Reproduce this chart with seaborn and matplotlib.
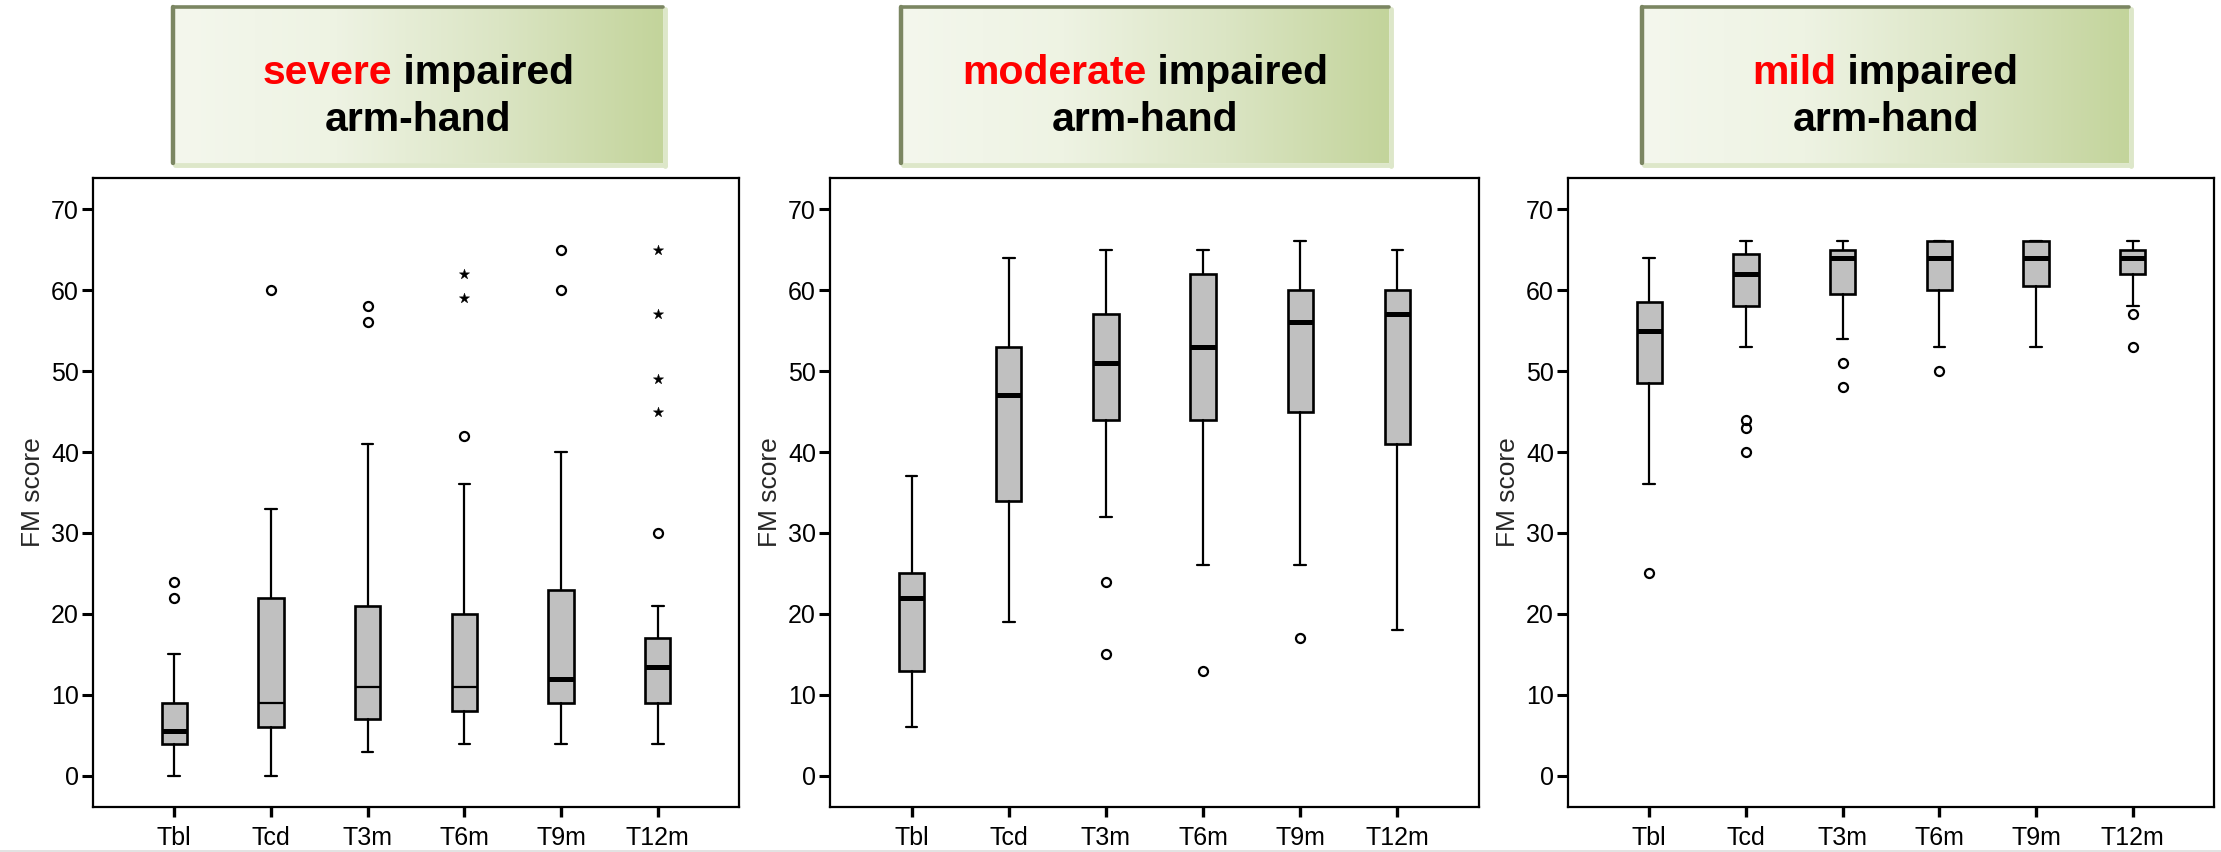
import numpy as np
import pandas as pd
import matplotlib
matplotlib.use("Agg")
import matplotlib.pyplot as plt
import seaborn as sns
from matplotlib.lines import Line2D
from matplotlib.patches import Rectangle
from matplotlib.colors import LinearSegmentedColormap

# ---------------- data ----------------
categories = ["Tbl", "Tcd", "T3m", "T6m", "T9m", "T12m"]
yticks = [0, 10, 20, 30, 40, 50, 60, 70]

severe_whislo = [0, 0, 3, 4, 4, 4]
severe_q1 = [4, 6, 7, 8, 9, 9]
severe_med = [5.5, 9, 11, 11, 12, 13.5]
severe_q3 = [9, 22, 21, 20, 23, 17]
severe_whishi = [15, 33, 41, 36, 40, 21]
severe_outliers = [[22, 24], [60], [56, 58], [42], [60, 65], [30]]
severe_extremes = [[], [], [], [59, 62], [], [45, 49, 57, 65]]

moderate_whislo = [6, 19, 32, 26, 26, 18]
moderate_q1 = [13, 34, 44, 44, 45, 41]
moderate_med = [22, 47, 51, 53, 56, 57]
moderate_q3 = [25, 53, 57, 62, 60, 60]
moderate_whishi = [37, 64, 65, 65, 66, 65]
moderate_outliers = [[], [], [15, 24], [13], [17], []]
moderate_extremes = [[], [], [], [], [], []]

mild_whislo = [36, 53, 54, 53, 53, 58]
mild_q1 = [48.5, 58, 59.5, 60, 60.5, 62]
mild_med = [55, 62, 64, 64, 64, 64]
mild_q3 = [58.5, 64.5, 65, 66, 66, 65]
mild_whishi = [64, 66, 66, 66, 66, 66]
mild_outliers = [[25], [40, 43, 44], [48, 51], [50], [], [53, 57]]
mild_extremes = [[], [], [], [], [], []]

severity_words = ["severe", "moderate", "mild"]
title_rest = " impaired"
title_line2 = "arm-hand"
ylabel = "FM score"

# thin-rendered median lines in the first panel (style only)
thin_medians = [[1, 2, 3], [], []]

panels = [
    (severe_whislo, severe_q1, severe_med, severe_q3, severe_whishi, severe_outliers, severe_extremes),
    (moderate_whislo, moderate_q1, moderate_med, moderate_q3, moderate_whishi, moderate_outliers, moderate_extremes),
    (mild_whislo, mild_q1, mild_med, mild_q3, mild_whishi, mild_outliers, mild_extremes),
]

# ---------------- style ----------------
sns.set_style("white")
plt.rcParams["font.family"] = ["Liberation Sans", "DejaVu Sans"]

W, H = 2221, 852
fig = plt.figure(figsize=(W / 100, H / 100), dpi=100)


def fx(px):
    return px / W


def fy(py):
    return 1 - py / H


panel_px = [(93, 739), (830, 1479), (1568, 2214)]
ax_top, ax_bottom = 178, 807

for p, (lo, q1, med, q3, hi, outl, ext) in enumerate(panels):
    l, r = panel_px[p]
    ax = fig.add_axes([fx(l), fy(ax_bottom), fx(r - l), (ax_bottom - ax_top) / H])
    stats = []
    for i, c in enumerate(categories):
        stats.append(dict(label=c, whislo=lo[i], q1=q1[i], med=med[i], q3=q3[i],
                          whishi=hi[i], fliers=outl[i]))
    res = ax.bxp(stats, positions=list(range(len(categories))), widths=0.26,
                 capwidths=0.12, patch_artist=True, showfliers=True,
                 boxprops=dict(facecolor="#c0c0c0", edgecolor="black", linewidth=1.9),
                 medianprops=dict(color="black", linewidth=3.6, solid_capstyle="butt"),
                 whiskerprops=dict(color="black", linewidth=1.6),
                 capprops=dict(color="black", linewidth=1.6),
                 flierprops=dict(marker="o", markerfacecolor="none",
                                 markeredgecolor="black", markersize=6.5,
                                 markeredgewidth=1.6, linestyle="none"))
    for k in thin_medians[p]:
        res["medians"][k].set_linewidth(1.6)

    sx, sy = [], []
    for i, vals in enumerate(ext):
        for v in vals:
            sx.append(i)
            sy.append(v)
    if sx:
        sns.scatterplot(x=sx, y=sy, ax=ax, marker="*", s=60, color="black",
                        edgecolor="black", linewidth=0.3, legend=False, zorder=5)

    ax.set_xlim(-0.84, 5.84)
    ax.set_ylim(-3.83, 73.83)
    ax.set_yticks(yticks)
    ax.set_xticks(list(range(len(categories))))
    ax.set_xticklabels(categories)
    ax.tick_params(axis="y", direction="out", length=8, width=2.2, labelsize=18,
                   pad=2, left=True, colors="black")
    ax.tick_params(axis="x", direction="out", length=7.5, width=2.4, labelsize=18,
                   pad=6, bottom=True, colors="black")
    for s in ax.spines.values():
        s.set_visible(True)
        s.set_linewidth(1.6)
        s.set_color("black")
    ax.set_ylabel(ylabel, fontsize=19)
    ax.yaxis.set_label_coords(-0.074, 0.5)
    ax.set_xlabel("")
    ax.grid(False)

# ---------------- title boxes ----------------
box_px = [(173, 663), (901, 1389), (1642, 2129)]
box_top, box_bottom = 7, 163
cmap = LinearSegmentedColormap.from_list(
    "g", ["#f4f7ed", "#eef3e3", "#dbe5c4", "#c3d49b"], N=256)
grad = np.linspace(0, 1, 256).reshape(1, -1)

renderer = fig.canvas.get_renderer()
title_size = 29.5

for p, (l, r) in enumerate(box_px):
    tax = fig.add_axes([fx(l), fy(box_bottom), fx(r - l), (box_bottom - box_top) / H])
    tax.imshow(grad, aspect="auto", cmap=cmap, extent=[0, 1, 0, 1])
    tax.set_xlim(0, 1)
    tax.set_ylim(0, 1)
    tax.axis("off")
    # light shadow (right/bottom), dark border (top/left)
    tax.add_line(Line2D([1.004, 1.004], [-0.02, 0.99], color="#dde7c9", lw=3.5,
                        transform=tax.transAxes, clip_on=False))
    tax.add_line(Line2D([0.005, 1.004], [-0.012, -0.012], color="#dde7c9", lw=3.5,
                        transform=tax.transAxes, clip_on=False))
    tax.add_line(Line2D([0, 1], [1, 1], color="#7b8662", lw=2.6,
                        transform=tax.transAxes, clip_on=False))
    tax.add_line(Line2D([0, 0], [0, 1], color="#7b8662", lw=3.2,
                        transform=tax.transAxes, clip_on=False))

    cx = (l + r) / 2
    t1 = fig.text(0, fy(84), severity_words[p], color="#ff0000", fontsize=title_size,
                  fontweight="bold", ha="left", va="baseline")
    t2 = fig.text(0, fy(84), title_rest, color="black", fontsize=title_size,
                  fontweight="bold", ha="left", va="baseline")
    w1 = t1.get_window_extent(renderer).width
    w2 = t2.get_window_extent(renderer).width
    start = cx - (w1 + w2) / 2
    t1.set_x(fx(start))
    t2.set_x(fx(start + w1))
    fig.text(fx(cx), fy(131), title_line2, color="black", fontsize=title_size,
             fontweight="bold", ha="center", va="baseline")

# faint bottom band
fig.patches.append(Rectangle((0, 0), 1, 2.5 / H, transform=fig.transFigure,
                             facecolor="#e2e2e2", edgecolor="none", figure=fig))

fig.savefig("out.png", dpi=100, facecolor="white")
